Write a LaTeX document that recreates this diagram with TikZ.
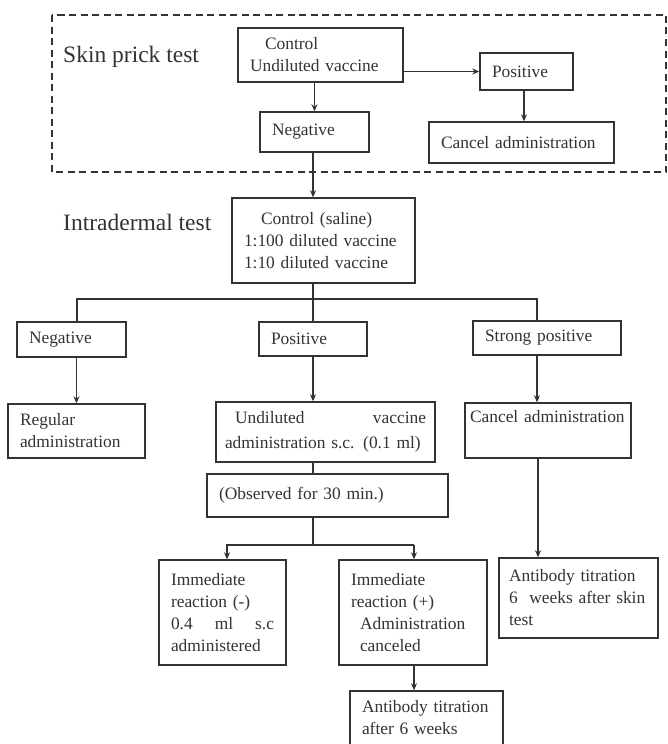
\documentclass[tikz,border=0pt]{standalone}
\usepackage{fontspec}
\setmainfont{Liberation Serif}
\usetikzlibrary{arrows.meta}
\definecolor{ink}{gray}{0.2}

\begin{document}
\begin{tikzpicture}[x=1pt, y=-1pt,
    box/.style={draw=ink, line width=1.4pt, text=ink, inner xsep=12pt, inner ysep=0pt,
      align=left, font=\fontsize{17.4}{22}\selectfont},
    head/.style={text=ink, anchor=west, inner sep=0pt, font=\fontsize{23.5}{28}\selectfont},
    link/.style={draw=ink, line width=1.4pt},
    arr/.style={link, -{Stealth[length=7pt, width=6pt]}}]
\fill[white] (0,0) rectangle (667,744);
\useasboundingbox (0,0) rectangle (667,744);

% skin prick test
\draw[ink, line width=1.4pt, dash pattern=on 7pt off 4.5pt] (52,15) rectangle (666,172);
\node[head] (skin) at (63,57) {Skin prick test};
\node[box, text width=141pt, minimum height=54pt] (ctrl) at (320.5,55) {\hspace*{15pt}Control\\Undiluted vaccine};
\node[box, text width=69pt, minimum height=37pt] (pos1) at (526.5,71.5) {Positive};
\node[box, text width=161pt, minimum height=41pt] (cancel1) at (521.5,142.5) {Cancel administration};
\node[box, text width=85pt, minimum height=40pt] (neg1) at (314.5,132) {Negative};

% intradermal test
\node[head] (intrad) at (63,222) {Intradermal test};
\node[box, text width=159pt, minimum height=85pt] (intra) at (323.5,240.5) {\hspace*{17pt}Control (saline)\\1:100 diluted vaccine\\1:10 diluted vaccine};

\node[box, text width=85pt, minimum height=35pt] (neg2) at (71.5,339.5) {Negative};
\node[box, text width=84pt, minimum height=34pt] (pos2) at (313,339) {Positive};
\node[box, text width=124pt, minimum height=34pt] (strong) at (547,338) {Strong positive};

\node[box, text width=113pt, minimum height=54pt] (reg) at (76.5,431) {Regular\\administration};
\node[box, inner xsep=9pt, text width=201pt, minimum height=60pt, font=\fontsize{17.4}{25}\selectfont] (undil) at (325.5,432) {\hspace*{10pt}Undiluted\hfill vaccine\\administration s.c. (0.1 ml)};
\node[box, inner xsep=5pt, text width=156pt, minimum height=55pt] (cancel2) at (548,430.5) {Cancel administration\\\strut};
\node[box, text width=217pt, minimum height=43pt] (obs) at (327.5,495.5) {(Observed for 30 min.)};

\node[box, text width=103pt, minimum height=105pt] (immneg) at (222.5,612.5) {Immediate\\reaction (-)\\0.4\hfill ml\hfill s.c\\administered};
\node[box, text width=124pt, minimum height=105pt] (immpos) at (413,612.5) {Immediate\\reaction (+)\\\hspace*{9pt}Administration\\\hspace*{9pt}canceled};
\node[box, inner xsep=10pt, text width=139pt, minimum height=80pt] (ab1) at (578.5,598) {Antibody titration\\6~~weeks after skin\\test};
\node[box, text width=129pt, minimum height=54pt] (ab2) at (426.5,718) {Antibody titration\\after 6 weeks};

\coordinate (busL) at (77,299);
\coordinate (busR) at (537,299);
\coordinate (bus2L) at (227,545);
\coordinate (bus2R) at (414,545);

% connectors
\draw[arr] (ctrl.east |- pos1.west) -- (pos1.west);
\draw[arr] (pos1.south -| 524,0) -- (cancel1.north -| 524,0);
\draw[arr] (neg1.north |- ctrl.south) -- (neg1.north);
\draw[arr] (neg1.south -| 313,0) -- (intra.north -| 313,0);

\draw[link] (intra.south -| pos2.north) -- (pos2.north);
\draw[link] (neg2.north -| busL) -- (busL) -- (busR) -- (strong.north -| busR);
\draw[arr] (neg2.south -| reg.north) -- (reg.north);
\draw[arr] (pos2.south) -- (pos2.south |- undil.north);
\draw[arr] (strong.south -| busR) -- (cancel2.north -| busR);

\draw[link] (undil.south -| pos2.south) -- (obs.north -| pos2.south);
\draw[link] (obs.south -| pos2.south) -- (pos2.south |- bus2L);
\draw[arr] (bus2R) -- (bus2L) -- (immneg.north -| bus2L);
\draw[arr] (bus2R) -- (immpos.north -| bus2R);
\draw[arr] (immpos.south -| bus2R) -- (ab2.north -| bus2R);
\draw[arr] (cancel2.south -| 538,0) -- (ab1.north -| 538,0);
\end{tikzpicture}
\end{document}
